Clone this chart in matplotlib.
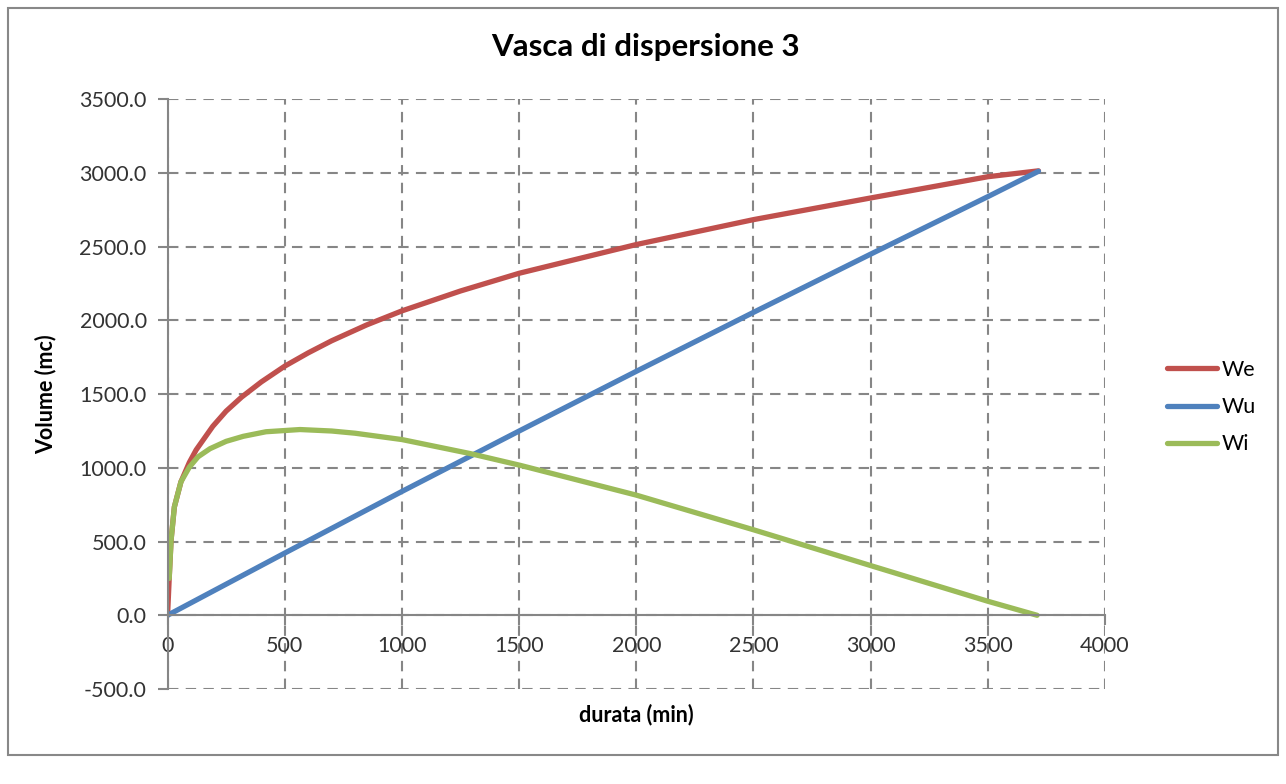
import matplotlib.pyplot as plt
from matplotlib.patches import Rectangle

# durata (min) e volumi (mc)
t_we = [0, 7, 15, 29, 57, 93, 122, 193, 250, 316, 400, 500, 600, 700, 850, 1000, 1250, 1500, 2000, 2500, 3000, 3500, 3716]
we = [0, 250, 510, 735, 905, 1037, 1122, 1282, 1385, 1480, 1583, 1690, 1780, 1862, 1970, 2065, 2200, 2320, 2515, 2684, 2831, 2975, 3015]

t_wu = [0, 500, 1000, 1500, 2000, 2500, 3000, 3500, 3716]
wu = [0, 422, 840, 1250, 1655, 2055, 2450, 2840, 3012]

t_wi = [7, 15, 29, 57, 93, 130, 181, 250, 323, 420, 565, 700, 800, 1000, 1291, 1505, 2000, 2500, 3000, 3500, 3710]
wi = [250, 510, 735, 905, 1005, 1075, 1130, 1180, 1214, 1245, 1260, 1250, 1235, 1192, 1097, 1017, 815, 580, 337, 95, 0]

x_ticks = [0, 500, 1000, 1500, 2000, 2500, 3000, 3500, 4000]
y_ticks = [-500, 0, 500, 1000, 1500, 2000, 2500, 3000, 3500]

plt.rcParams['font.family'] = ['Lato', 'DejaVu Sans']

fig = plt.figure(figsize=(12.86, 7.84), dpi=100)
ax = fig.add_axes([0.1303, 0.1212, 0.7290, 0.7521])

ax.plot(t_we, we, color='#C0504D', lw=3.8, label='We', solid_capstyle='round', solid_joinstyle='round')
ax.plot(t_wu, wu, color='#4F81BD', lw=3.8, label='Wu', solid_capstyle='round', solid_joinstyle='round')
ax.plot(t_wi, wi, color='#9BBB59', lw=3.8, label='Wi', solid_capstyle='round', solid_joinstyle='round')

ax.set_xlim(0, 4000)
ax.set_ylim(-500, 3500)
ax.set_xticks(x_ticks)
ax.set_yticks(y_ticks)
ax.set_yticklabels([f'{v:.1f}' for v in y_ticks])

ax.grid(True, color='#868686', linestyle=(0, (5, 3.5)), linewidth=1.5)
ax.set_axisbelow(True)

ax.spines['top'].set_visible(False)
ax.spines['right'].set_visible(False)
ax.spines['bottom'].set_position(('data', 0))
for s in ('left', 'bottom'):
    ax.spines[s].set_color('#868686')
    ax.spines[s].set_linewidth(1.5)
ax.tick_params(axis='both', colors='#868686', length=7, width=1.5, labelsize=15.5, labelcolor='#333333')
ax.tick_params(axis='x', pad=8)
ax.tick_params(axis='y', pad=8)

fig.text(645 / 1286, 1 - 47 / 784, 'Vasca di dispersione 3', ha='center', va='center',
         fontsize=22.5, fontweight='bold')
ax.set_ylabel('Volume (mc)', fontsize=15.5, fontweight='bold')
ax.yaxis.set_label_coords(-0.118, 0.5)
ax.text(0.5, -0.025, 'durata (min)', transform=ax.transAxes, ha='center', va='top',
        fontsize=15.5, fontweight='bold')

ax.legend(loc='center left', bbox_to_anchor=(1.045, 0.478), frameon=False, fontsize=15.5,
          handlelength=2.35, handletextpad=0.2, labelspacing=0.8)

fig.patches.append(Rectangle((8 / 1286, 1 - 755 / 784), 1270 / 1286, 747 / 784,
                             transform=fig.transFigure, fill=False, edgecolor='#888888', lw=1.5))

fig.savefig('out.png', dpi=100)
